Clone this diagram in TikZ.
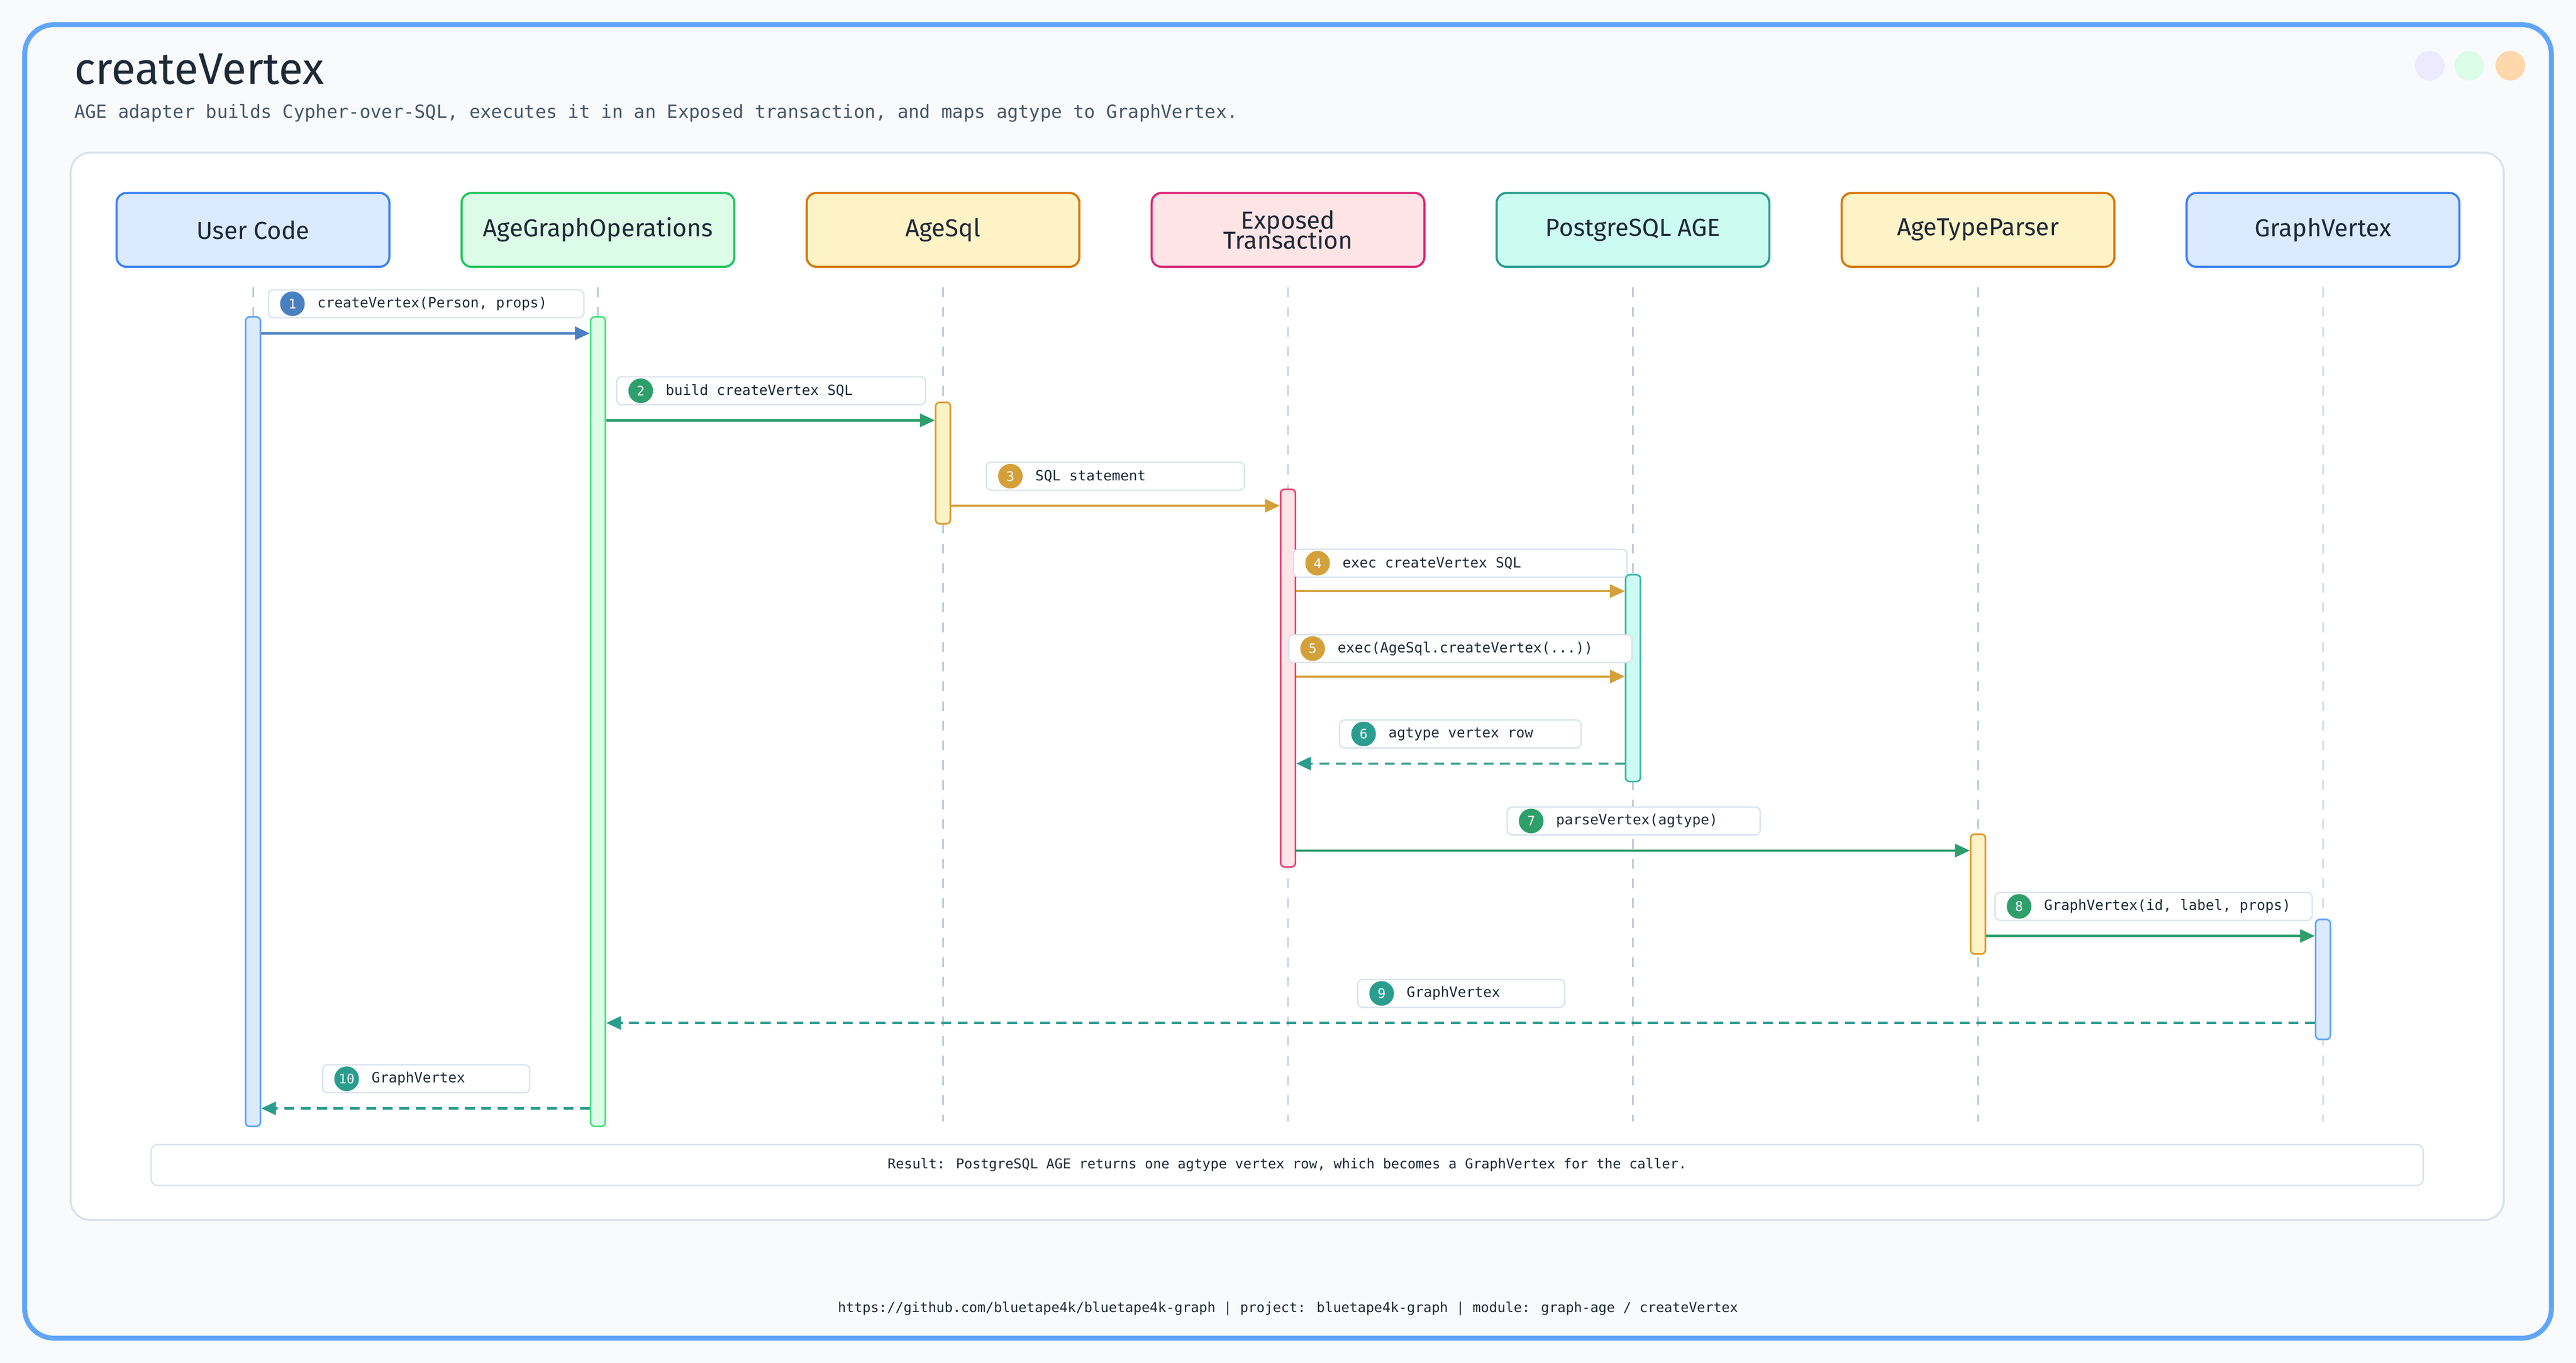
\documentclass[tikz,border=0pt]{standalone}
\usepackage{fontspec}
\setmainfont{Fira Sans}
\newfontfamily\monof{DejaVu Sans Mono}
\usetikzlibrary{arrows.meta}
\definecolor{bg}{HTML}{F8FAFC}
\definecolor{frame}{HTML}{60A5FA}
\definecolor{panel}{HTML}{D9E2EC}
\definecolor{life}{HTML}{B8C4D2}
\definecolor{cB}{HTML}{4A7FC1}
\definecolor{cG}{HTML}{2E9E6B}
\definecolor{cO}{HTML}{D4A03A}
\definecolor{cT}{HTML}{2A9D8F}
\definecolor{txt}{HTML}{1F2937}
\definecolor{sub}{HTML}{475569}
\definecolor{dot1}{HTML}{EDE9FE}
\definecolor{dot2}{HTML}{DCFCE7}
\definecolor{dot3}{HTML}{FED7AA}
\definecolor{bB}{HTML}{3B82F6}\definecolor{fB}{HTML}{DBEAFE}
\definecolor{bG}{HTML}{22C55E}\definecolor{fG}{HTML}{DCFCE7}
\definecolor{bO}{HTML}{D97706}\definecolor{fO}{HTML}{FEF3C7}
\definecolor{bP}{HTML}{DB2777}\definecolor{fP}{HTML}{FFE4E6}
\definecolor{bT}{HTML}{2A9D8F}\definecolor{fT}{HTML}{CCFBF1}
\definecolor{aB}{HTML}{60A5FA}\definecolor{aG}{HTML}{4ADE80}
\definecolor{aO}{HTML}{E09A2B}\definecolor{aP}{HTML}{E8457A}
\definecolor{aT}{HTML}{3CB8A8}
\tikzset{
 x=1pt,y=-1pt,
 part/.style={draw=#1,line width=1.3pt,rounded corners=6pt,minimum width=166pt,minimum height=45pt,inner sep=0pt,align=center,font=\fontsize{15}{15}\selectfont,text=txt},
 lifeln/.style={draw=life,line width=0.9pt,dash pattern=on 6pt off 6pt},
 act/.style={draw=#1,line width=1pt,rounded corners=2.5pt,minimum width=9pt,inner sep=0pt},
 msg/.style={draw=#1,line width=1.4pt,-{Triangle[length=9pt,width=8pt]}},
 ret/.style={msg=#1,dash pattern=on 6pt off 4pt},
 lbl/.style={draw=panel,fill=white,line width=0.8pt,rounded corners=3pt,minimum height=17pt,inner sep=0pt,anchor=west},
 num/.style={circle,fill=#1,text=white,inner sep=0pt,minimum size=15pt,font=\monof\fontsize{8}{8}\selectfont},
 ltext/.style={font=\monof\fontsize{8.6}{8.6}\selectfont,text=txt,anchor=west,inner sep=0pt},
}
\begin{document}
\begin{tikzpicture}
\fill[bg] (0,0) rectangle (1568,830);
\useasboundingbox (0,0) rectangle (1568,830);
\draw[frame,line width=3pt,rounded corners=18pt] (15,15) rectangle (1553,815);
\node[anchor=west,inner sep=0pt,font=\fontsize{27}{27}\selectfont,text=txt] (title) at (45,42) {createVertex};
\node[anchor=west,inner sep=0pt,font=\monof\fontsize{11.1}{11.1}\selectfont,text=sub] (subt) at (45,69) {AGE adapter builds Cypher-over-SQL, executes it in an Exposed transaction, and maps agtype to GraphVertex.};
\fill[dot1] (1479,40) circle (9); \fill[dot2] (1503,40) circle (9); \fill[dot3] (1528,40) circle (9);
\draw[panel,fill=white,line width=1.2pt,rounded corners=12pt] (43,93) rectangle (1524,743);
% participants
\node[part=bB,fill=fB] (pU) at (154,140) {User Code};
\node[part=bG,fill=fG] (pG) at (364,140) {AgeGraphOperations};
\node[part=bO,fill=fO] (pS) at (574,140) {AgeSql};
\node[part=bP,fill=fP] (pE) at (784,140) {Exposed\\[-3pt]Transaction};
\node[part=bT,fill=fT] (pP) at (994,140) {PostgreSQL AGE};
\node[part=bO,fill=fO] (pA) at (1204,140) {AgeTypeParser};
\node[part=bB,fill=fB] (pV) at (1414,140) {GraphVertex};
\foreach \x in {154,364,574,784,994,1204,1414}
  \draw[lifeln] (\x,175) -- (\x,683);
% activations
\node[act=aB,fill=fB,minimum height=493pt] (acU) at (154,439.5) {};
\node[act=aG,fill=fG,minimum height=493pt] (acG) at (364,439.5) {};
\node[act=aO,fill=fO,minimum height=74pt] (acS) at (574,282) {};
\node[act=aP,fill=fP,minimum height=230pt] (acE) at (784,413) {};
\node[act=aT,fill=fT,minimum height=126pt] (acP) at (994,413) {};
\node[act=aO,fill=fO,minimum height=73pt] (acA) at (1204,544.5) {};
\node[act=aB,fill=fB,minimum height=73pt] (acV) at (1414,596.5) {};
% messages
\draw[msg=cB] (acU.east |- 0,203) -- (acG.west |- 0,203);
\draw[msg=cG] (acG.east |- 0,256) -- (acS.west |- 0,256);
\draw[msg=cO] (acS.east |- 0,308) -- (acE.west |- 0,308);
\draw[msg=cO] (acE.east |- 0,360) -- (acP.west |- 0,360);
\draw[msg=cO] (acE.east |- 0,412) -- (acP.west |- 0,412);
\draw[ret=cT] (acP.west |- 0,465) -- (acE.east |- 0,465);
\draw[msg=cG] (acE.east |- 0,518) -- (acA.west |- 0,518);
\draw[msg=cG] (acA.east |- 0,570) -- (acV.west |- 0,570);
\draw[ret=cT] (acV.west |- 0,623) -- (acG.east |- 0,623);
\draw[ret=cT] (acG.west |- 0,675) -- (acU.east |- 0,675);
% labels
\foreach \n/\c/\x/\w/\y/\t in {
 1/cB/163/192/185/{createVertex(Person, props)},
 2/cG/375/188/238/{build createVertex SQL},
 3/cO/600/157/290/{SQL statement},
 4/cO/787/203/343/{exec createVertex SQL},
 5/cO/784/209/395/{exec(AgeSql.createVertex(...))},
 6/cT/815/147/447/{agtype vertex row},
 7/cG/917/154/500/{parseVertex(agtype)},
 8/cG/1214/193/552/{GraphVertex(id, label, props)},
 9/cT/826/126/605/{GraphVertex},
 10/cT/196/126/657/{GraphVertex}}{
  \node[lbl,minimum width=\w pt] (l\n) at (\x,\y) {};
  \node[num=\c] (n\n) at ([xshift=15pt]l\n.west) {\n};
  \node[ltext] (t\n) at ([xshift=15pt]n\n.center) {\t};
}
\node[draw=panel,fill=white,line width=0.8pt,rounded corners=4pt,minimum width=1383pt,minimum height=25pt,inner sep=0pt,font=\monof\fontsize{8.3}{8.3}\selectfont,text=txt] (res) at (783.5,709.5) {Result: PostgreSQL AGE returns one agtype vertex row, which becomes a GraphVertex for the caller.};
\node[font=\monof\fontsize{8.3}{8.3}\selectfont,text=txt,inner sep=0pt] (foot) at (784,797) {https://github.com/bluetape4k/bluetape4k-graph | project: bluetape4k-graph | module: graph-age / createVertex};
\end{tikzpicture}
\end{document}
